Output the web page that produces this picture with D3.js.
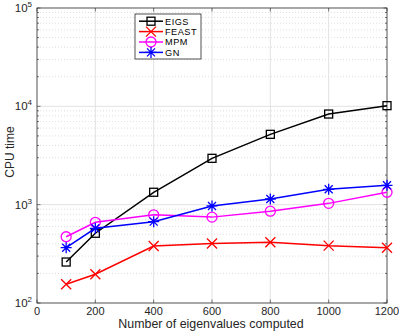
<!DOCTYPE html>
<html><head><meta charset="utf-8">
<script src="https://cdn.jsdelivr.net/npm/d3@7"></script>
<style>body{margin:0;background:#fff}svg{display:block;font-family:"Liberation Sans",Arial,sans-serif}</style>
</head><body><svg id="c" width="399" height="332"></svg>
<script>
const xs = [100, 200, 400, 600, 800, 1000, 1200];
const eigs = [261, 512, 1337, 2960, 5190, 8350, 10160];
const feast = [155, 196, 380, 402, 415, 383, 365];
const mpm = [472, 661, 788, 747, 859, 1031, 1338];
const gn = [365, 575, 672, 970, 1142, 1432, 1573];
const xTicks = [0, 200, 400, 600, 800, 1000, 1200];
const yExps = [2, 3, 4, 5];
const seriesNames = ["EIGS", "FEAST", "MPM", "GN"];
const seriesColors = ["#000000", "#ff0000", "#ff00ff", "#0000ff"];
const seriesMarkers = ["square", "x", "circle", "star"];
const seriesData = [eigs, feast, mpm, gn];

const svg = d3.select("#c");
const L = 37, R = 387, T = 8, B = 303;
const x = d3.scaleLinear().domain([0, 1200]).range([L, R]);
const y = d3.scaleLog().domain([100, 100000]).range([B, T]);

// minor grid (dotted)
const minors = [];
for (let e = 2; e < 5; e++) for (let m = 2; m <= 9; m++) minors.push(m * Math.pow(10, e));
svg.append("g").selectAll("line").data(minors).join("line")
  .attr("x1", L).attr("x2", R).attr("y1", d => y(d)).attr("y2", d => y(d))
  .attr("stroke", "#c8c8c8").attr("stroke-width", 0.6).attr("stroke-dasharray", "1,2");
// major grid
svg.append("g").selectAll("line").data(xTicks.slice(1, -1)).join("line")
  .attr("x1", d => x(d)).attr("x2", d => x(d)).attr("y1", T).attr("y2", B)
  .attr("stroke", "#e2e2e2").attr("stroke-width", 1);
svg.append("g").selectAll("line").data(yExps.slice(1, -1)).join("line")
  .attr("x1", L).attr("x2", R).attr("y1", d => y(Math.pow(10, d))).attr("y2", d => y(Math.pow(10, d)))
  .attr("stroke", "#e2e2e2").attr("stroke-width", 1);

// ticks on box
const tk = svg.append("g").attr("stroke", "#262626").attr("stroke-width", 0.6);
xTicks.forEach(v => {
  tk.append("line").attr("x1", x(v)).attr("x2", x(v)).attr("y1", B).attr("y2", B - 3.5);
  tk.append("line").attr("x1", x(v)).attr("x2", x(v)).attr("y1", T).attr("y2", T + 3.5);
});
yExps.forEach(e => {
  const yy = y(Math.pow(10, e));
  tk.append("line").attr("x1", L).attr("x2", L + 3.5).attr("y1", yy).attr("y2", yy);
  tk.append("line").attr("x1", R).attr("x2", R - 3.5).attr("y1", yy).attr("y2", yy);
});
minors.forEach(v => {
  tk.append("line").attr("x1", L).attr("x2", L + 2).attr("y1", y(v)).attr("y2", y(v));
  tk.append("line").attr("x1", R).attr("x2", R - 2).attr("y1", y(v)).attr("y2", y(v));
});

// box
svg.append("rect").attr("x", L).attr("y", T).attr("width", R - L).attr("height", B - T)
  .attr("fill", "none").attr("stroke", "#262626").attr("stroke-width", 0.8);

// tick labels
svg.append("g").selectAll("text").data(xTicks).join("text")
  .attr("x", d => x(d)).attr("y", B + 12).attr("text-anchor", "middle")
  .attr("font-size", 11).attr("fill", "#262626").text(d => d);
const yl = svg.append("g").selectAll("text").data(yExps).join("text")
  .attr("x", L - 5).attr("y", d => y(Math.pow(10, d)) + 4).attr("text-anchor", "end")
  .attr("font-size", 11.5).attr("fill", "#262626");
yl.each(function(d) {
  const t = d3.select(this);
  t.append("tspan").text("10");
  t.append("tspan").attr("dy", -5).attr("font-size", 8).text(d);
});

// axis labels
svg.append("text").attr("x", (L + R) / 2 - 1).attr("y", 327.5).attr("text-anchor", "middle")
  .attr("font-size", 12.4).attr("fill", "#262626").text("Number of eigenvalues computed");
svg.append("text").attr("transform", `translate(14,152) rotate(-90)`).attr("text-anchor", "middle")
  .attr("font-size", 12).attr("fill", "#262626").text("CPU time");

function marker(g, type, cx, cy, color) {
  if (type === "square") {
    g.append("rect").attr("x", cx - 4).attr("y", cy - 4).attr("width", 8).attr("height", 8)
      .attr("fill", "none").attr("stroke", color).attr("stroke-width", 1.3);
  } else if (type === "x") {
    g.append("path").attr("d", `M${cx-5},${cy-5}L${cx+5},${cy+5}M${cx-5},${cy+5}L${cx+5},${cy-5}`)
      .attr("stroke", color).attr("stroke-width", 1.3);
  } else if (type === "circle") {
    g.append("circle").attr("cx", cx).attr("cy", cy).attr("r", 5)
      .attr("fill", "none").attr("stroke", color).attr("stroke-width", 1.3);
  } else {
    g.append("path").attr("d", `M${cx-5.5},${cy}L${cx+5.5},${cy}M${cx},${cy-5.5}L${cx},${cy+5.5}M${cx-4},${cy-4}L${cx+4},${cy+4}M${cx-4},${cy+4}L${cx+4},${cy-4}`)
      .attr("stroke", color).attr("stroke-width", 1.3);
  }
}

const line = d3.line().x(d => x(d[0])).y(d => y(d[1]));
seriesData.forEach((vals, i) => {
  const pts = xs.map((v, j) => [v, vals[j]]);
  const g = svg.append("g");
  g.append("path").attr("d", line(pts)).attr("fill", "none")
    .attr("stroke", seriesColors[i]).attr("stroke-width", 1.5);
  pts.forEach(p => marker(g, seriesMarkers[i], x(p[0]), y(p[1]), seriesColors[i]));
});

// legend
const lg = svg.append("g");
lg.append("rect").attr("x", 135).attr("y", 14).attr("width", 66).attr("height", 45)
  .attr("fill", "#fff").attr("stroke", "#262626").attr("stroke-width", 0.8);
seriesNames.forEach((n, i) => {
  const yy = 21.2 + i * 10.4;
  lg.append("line").attr("x1", 139).attr("x2", 163).attr("y1", yy).attr("y2", yy)
    .attr("stroke", seriesColors[i]).attr("stroke-width", 1.5);
  marker(lg, seriesMarkers[i], 151, yy, seriesColors[i]);
  lg.append("text").attr("x", 165).attr("y", yy + 3.4).attr("font-size", 9.2)
    .attr("letter-spacing", 0.5).attr("fill", "#000").text(n);
});
</script></body></html>
